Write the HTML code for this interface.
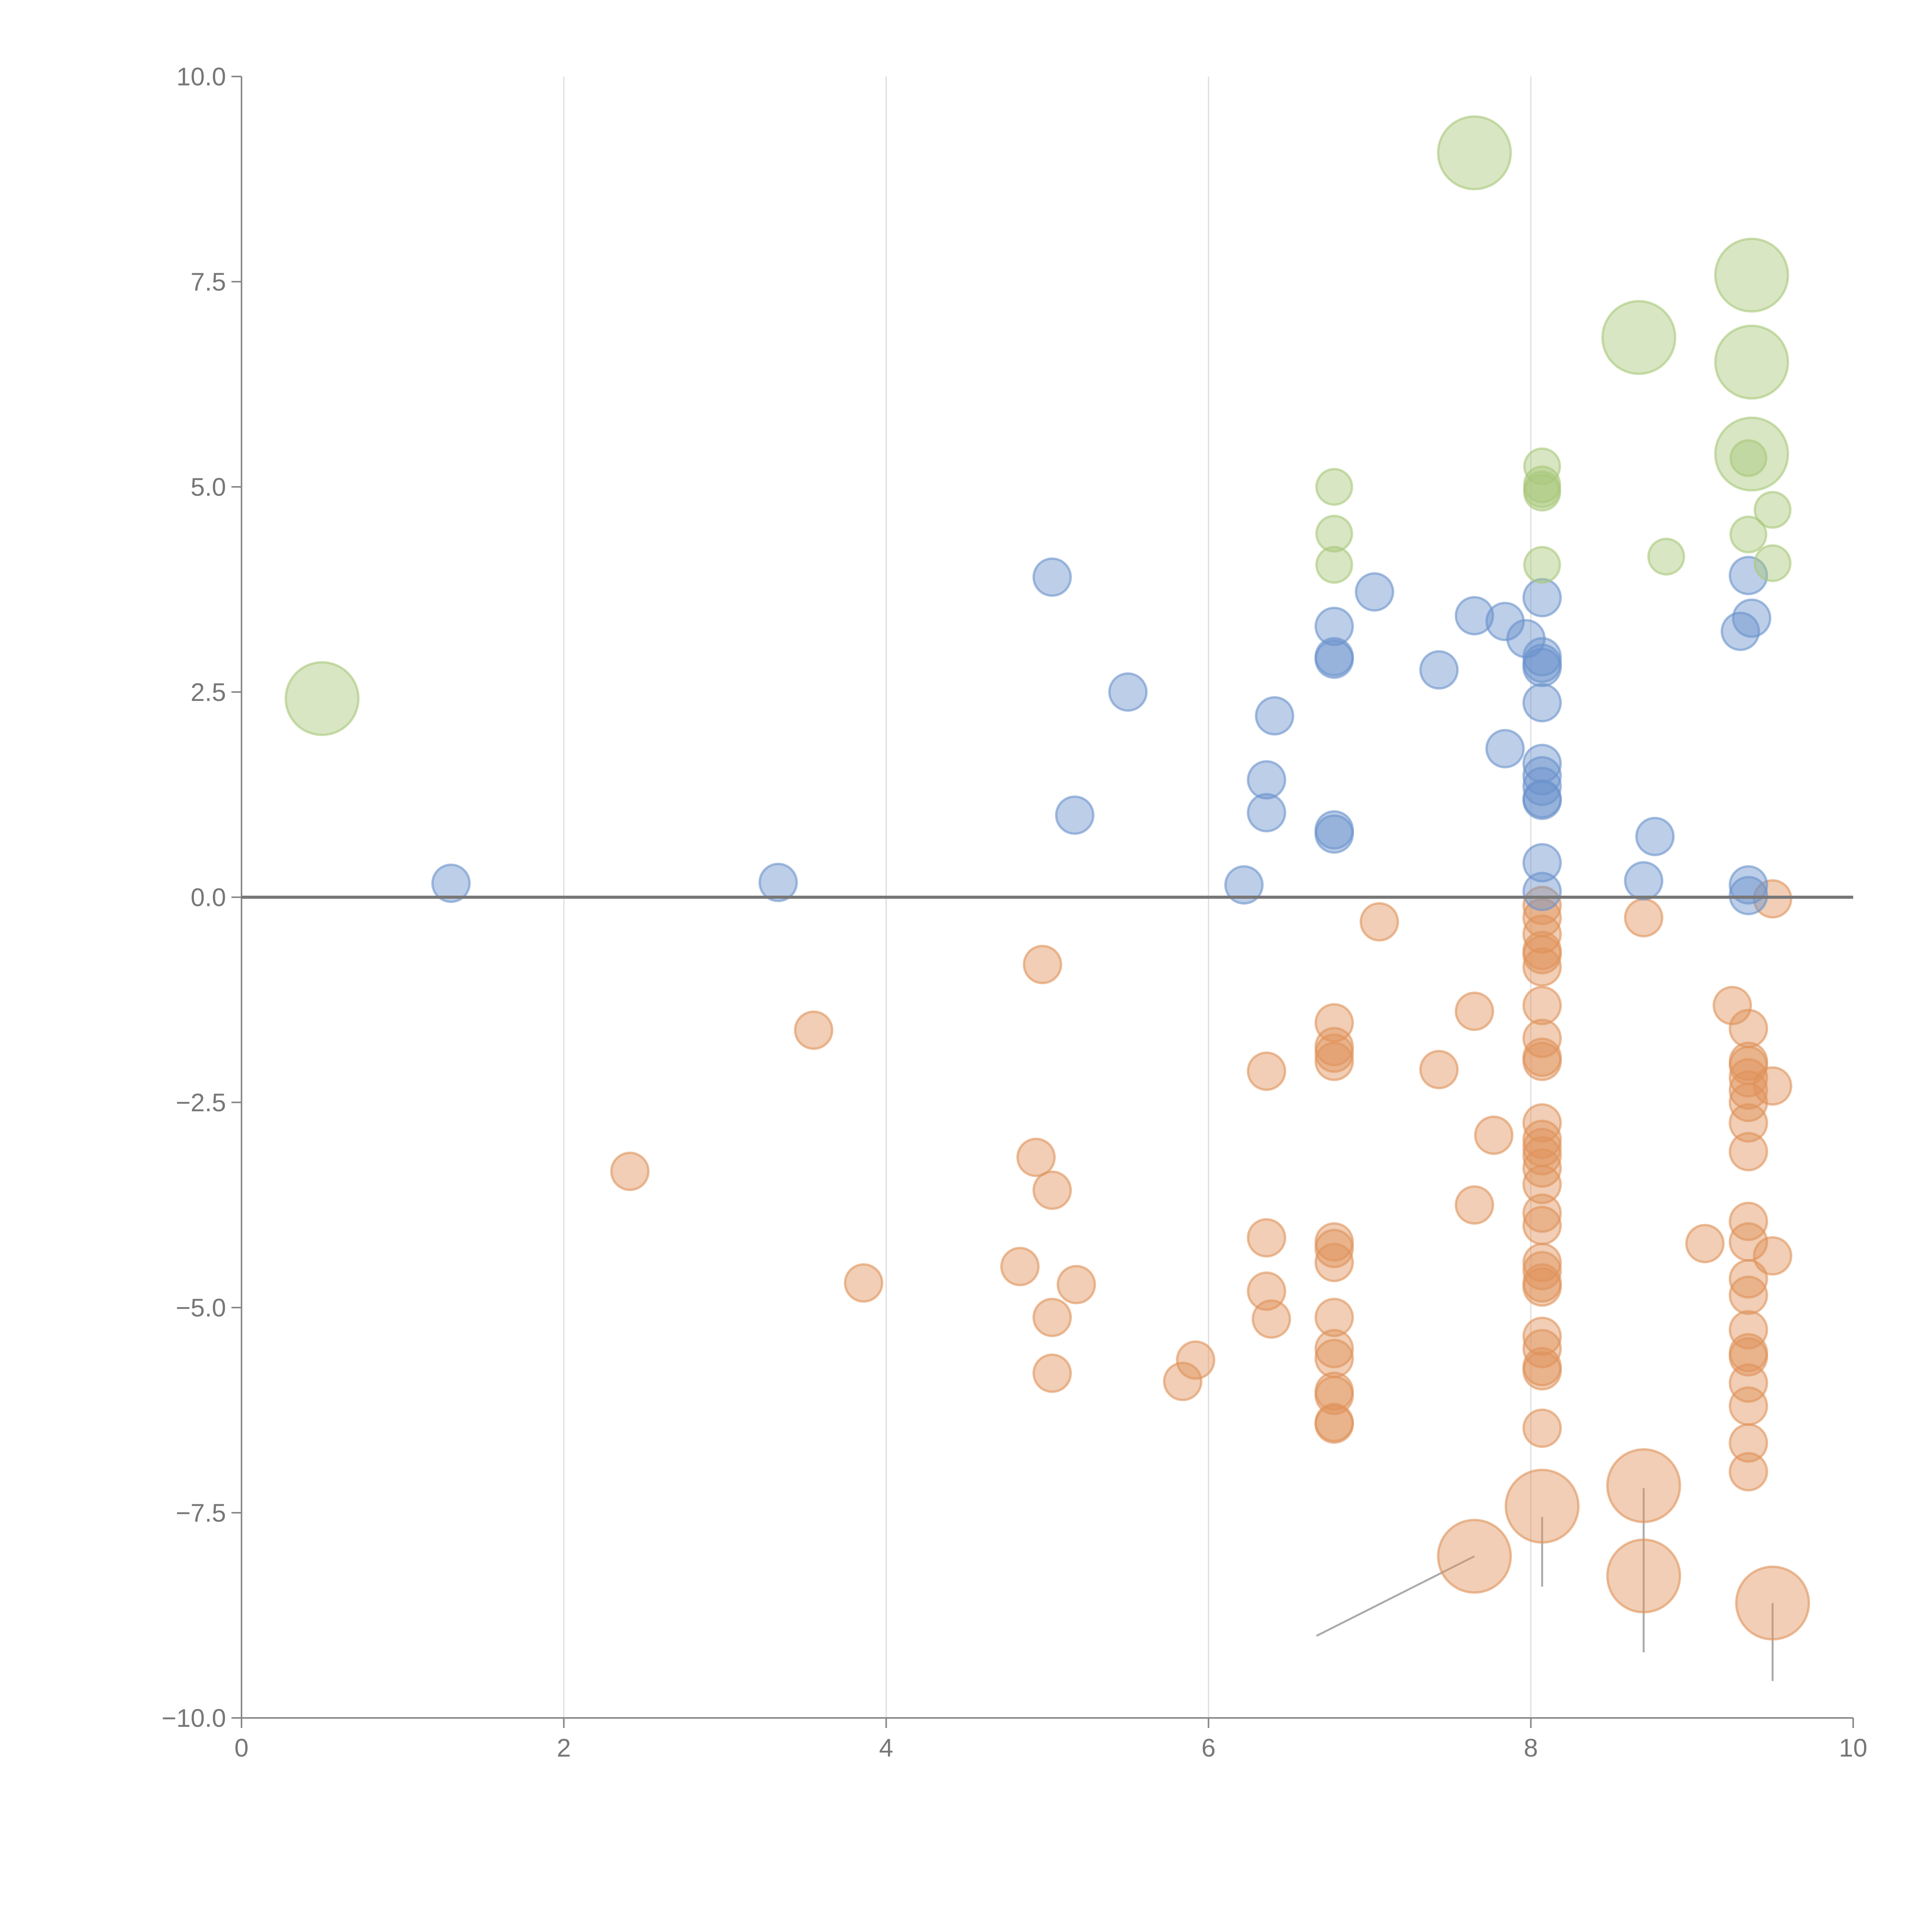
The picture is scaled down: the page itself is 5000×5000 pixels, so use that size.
<!DOCTYPE html>
<html><head><meta charset="utf-8"><style>
html,body{margin:0;padding:0;background:#fff;}
svg{display:block;font-family:"Liberation Sans",sans-serif;}
</style></head>
<body>
<svg id="chart" width="5000" height="5000" viewBox="0 0 5000 5000" xmlns="http://www.w3.org/2000/svg">
<g id="grid"></g>
<g id="axes"></g>
<g id="marks"></g>
</svg>
<script>
const xTicks=[0,2,4,6,8,10];
const yTicks=[10,7.5,5,2.5,0,-2.5,-5,-7.5,-10];
const blueX=[1.3,3.33,5.03,5.5,5.17,6.22,6.36,6.36,6.41,6.78,6.78,6.78,6.78,6.78,7.03,7.43,7.65,7.84,7.84,7.97,8.07,8.07,8.07,8.07,8.07,8.07,8.07,8.07,8.07,8.07,8.07,8.07,8.7,8.77,9.3,9.35,9.37,9.35,9.35];
const blueY=[0.17,0.18,3.9,2.5,1.0,0.15,1.43,1.03,2.21,3.3,2.93,2.9,0.82,0.77,3.72,2.77,3.43,3.36,1.81,3.15,3.65,2.93,2.85,2.8,2.37,1.63,1.48,1.35,1.2,1.18,0.42,0.07,0.2,0.74,3.24,3.92,3.4,0.15,0.02];
const greenX=[6.78,6.78,6.78,8.07,8.07,8.07,8.07,8.07,8.84,9.35,9.35,9.5,9.5];
const greenY=[5.0,4.43,4.05,5.25,5.03,4.97,4.93,4.05,4.15,5.35,4.42,4.72,4.07];
const greenBigX=[0.5,7.65,8.67,9.37,9.37,9.37];
const greenBigY=[2.42,9.07,6.82,7.58,6.52,5.4];
const orangeX=[2.41,3.55,3.86,4.83,4.93,4.97,5.03,5.03,5.03,5.18,5.84,5.92,6.36,6.36,6.36,6.39,6.78,6.78,6.78,6.78,6.78,6.78,6.78,6.78,6.78,6.78,6.78,6.78,6.78,6.78,7.06,7.43,7.65,7.65,7.77,
8.07,8.07,8.07,8.07,8.07,8.07,8.07,8.07,8.07,8.07,8.07,8.07,8.07,8.07,8.07,8.07,8.07,8.07,8.07,8.07,8.07,8.07,8.07,8.07,8.07,8.07,8.07,
8.7,9.08,9.25,9.35,9.35,9.35,9.35,9.35,9.35,9.35,9.35,9.35,9.35,9.35,9.35,9.35,9.35,9.35,9.35,9.35,9.35,9.35,9.5,9.5,9.5];
const orangeY=[-3.34,-1.62,-4.7,-4.5,-3.17,-0.82,-3.57,-5.12,-5.8,-4.72,-5.9,-5.64,-2.12,-4.15,-4.8,-5.14,-1.53,-1.82,-1.9,-2.0,-4.2,-4.28,-4.45,-5.12,-5.5,-5.62,-6.02,-6.07,-6.4,-6.42,-0.3,-2.1,-1.39,-3.75,-2.9,
-0.1,-0.25,-0.45,-0.65,-0.7,-0.85,-1.32,-1.72,-1.95,-2.0,-2.75,-2.95,-3.05,-3.15,-3.3,-3.5,-3.85,-4.0,-4.45,-4.55,-4.7,-4.75,-5.35,-5.5,-5.72,-5.77,-6.47,
-0.25,-4.22,-1.32,-1.6,-2.0,-2.05,-2.2,-2.35,-2.5,-2.75,-3.1,-3.95,-4.2,-4.65,-4.85,-5.27,-5.55,-5.6,-5.92,-6.2,-6.65,-7.0,-0.02,-2.3,-4.37];
const orangeBigX=[7.65,8.07,8.7,8.7,9.5];
const orangeBigY=[-8.03,-7.42,-7.17,-8.27,-8.6];

const NS="http://www.w3.org/2000/svg";
const X0=625,X1=4796,Y0=198,Y1=4446;
const xs=v=>X0+(v-0)/10*(X1-X0);
const ys=v=>Y0+(10-v)/20*(Y1-Y0);
function mk(tag,attrs,parent){const e=document.createElementNS(NS,tag);for(const k in attrs)e.setAttribute(k,attrs[k]);parent.appendChild(e);return e;}
const grid=document.getElementById('grid'),axes=document.getElementById('axes'),marks=document.getElementById('marks');

xTicks.forEach(t=>{
  if(t>0&&t<10){const g=mk('line',{x1:xs(t),x2:xs(t),y1:Y0,y2:Y1,stroke:'#dddddd','stroke-width':3},grid);
  
  }
  const tk=mk('line',{x1:xs(t),x2:xs(t),y1:Y1,y2:Y1+26,stroke:'#888','stroke-width':4},axes);
  
  
  const tx=mk('text',{x:xs(t),y:Y1+100,'text-anchor':'middle','font-size':66,fill:'#777'},axes);
  tx.textContent=t;
  
  
});
yTicks.forEach(t=>{
  const tk=mk('line',{x1:X0-26,x2:X0,y1:ys(t),y2:ys(t),stroke:'#888','stroke-width':4},axes);
  
  
  const tx=mk('text',{x:X0-40,y:ys(t)+23,'text-anchor':'end','font-size':66,fill:'#777'},axes);
  tx.textContent=t.toFixed(1).replace('-','\u2212');
  
  
});
let a=mk('line',{x1:X0,x2:X0,y1:Y0,y2:Y1,stroke:'#888','stroke-width':4},axes);


a=mk('line',{x1:X0,x2:X1,y1:Y1,y2:Y1,stroke:'#888','stroke-width':4},axes);



const leaders=[[7.65,-8.03,6.67,-9.0],[8.07,-7.55,8.07,-8.4],[8.7,-7.2,8.7,-9.2],[9.5,-8.6,9.5,-9.55]];
leaders.forEach(l=>{
  const e=mk('line',{x1:xs(l[0]),y1:ys(l[1]),x2:xs(l[2]),y2:ys(l[3]),stroke:'#aaa','stroke-width':5},marks);
  
  
});

function series(X,Y,r,color,name){
  X.forEach((x,i)=>{
    const c=mk('circle',{cx:xs(x),cy:ys(Y[i]),r:r,fill:color,'fill-opacity':0.45,stroke:color,'stroke-opacity':0.6,'stroke-width':6},marks);
    
    
  });
}
series(orangeX,orangeY,48,'#e0935a','orange-bubble');
series(orangeBigX,orangeBigY,94,'#e0935a','orange-large-bubble');
series(blueX,blueY,48,'#6a92cc','blue-bubble');
series(greenX,greenY,46,'#a9c87a','green-bubble');
series(greenBigX,greenBigY,94,'#a9c87a','green-large-bubble');

const z=mk('line',{x1:X0,x2:X1,y1:ys(0),y2:ys(0),stroke:'#777','stroke-width':8},marks);


</script>
</body></html>
